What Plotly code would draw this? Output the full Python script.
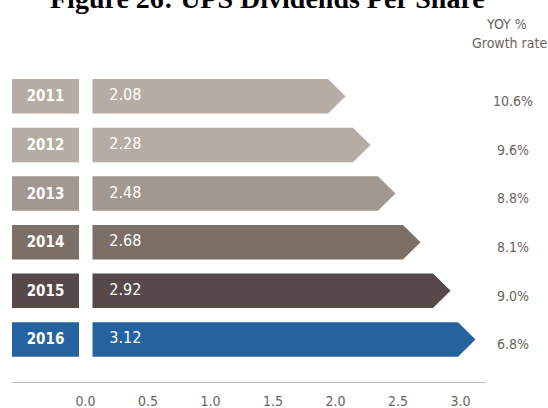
import plotly.graph_objects as go

years = ["2011", "2012", "2013", "2014", "2015", "2016"]
dividends = [2.08, 2.28, 2.48, 2.68, 2.92, 3.12]
growth = ["10.6%", "9.6%", "8.8%", "8.1%", "9.0%", "6.8%"]
colors = ["#b5aca3", "#b5aca3", "#a29791", "#7c6f66", "#574849", "#2563a0"]
tick_vals = [0.0, 0.5, 1.0, 1.5, 2.0, 2.5, 3.0]
title_text = "Figure 26: UPS Dividends Per Share"

FONT = "DejaVu Sans Condensed, DejaVu Sans, sans-serif"
GRAY = "#6b6360"

X_MIN, X_MAX = -0.588, 3.204
BOX_END = -0.052
BAR_START = 0.056
TIP = 0.14
HALF = 0.355

fig = go.Figure()

# year boxes
fig.add_trace(go.Bar(
    y=list(range(len(years))),
    x=[BOX_END - X_MIN] * len(years),
    base=[X_MIN] * len(years),
    orientation="h",
    width=2 * HALF,
    marker=dict(color=colors, line=dict(width=0)),
    text=years,
    textposition="inside",
    insidetextanchor="middle",
    textfont=dict(family=FONT, size=15, color="white", weight=700),
    hoverinfo="skip",
    showlegend=False,
))

# arrow bars
for i, (v, c) in enumerate(zip(dividends, colors)):
    xs = [BAR_START, v - TIP, v, v - TIP, BAR_START, BAR_START]
    ys = [i - HALF, i - HALF, i, i + HALF, i + HALF, i - HALF]
    fig.add_trace(go.Scatter(
        x=xs, y=ys, mode="lines", fill="toself", fillcolor=c,
        line=dict(width=0, color=c), hoverinfo="skip", showlegend=False,
    ))

# value labels
fig.add_trace(go.Scatter(
    x=[0.19] * len(dividends), y=list(range(len(dividends))),
    mode="text", text=[f"{v:.2f}" for v in dividends],
    textposition="middle right",
    textfont=dict(family=FONT, size=16, color="white"),
    hoverinfo="skip", showlegend=False,
))

annotations = [
    dict(text=title_text, xref="paper", yref="paper", x=0.54, y=1.109,
         xanchor="center", yanchor="bottom", showarrow=False,
         font=dict(family="Liberation Serif, Times New Roman, serif",
                   size=28, color="black", weight=700)),
    dict(text="YOY %", xref="paper", yref="paper",
         x=1.0443, y=1.0848, xanchor="center", yanchor="middle",
         showarrow=False, font=dict(family=FONT, size=14, color=GRAY)),
    dict(text="Growth rate", xref="paper", yref="paper",
         x=1.0506, y=1.0258, xanchor="center", yanchor="middle",
         showarrow=False, font=dict(family=FONT, size=14, color=GRAY)),
]
for i, g in enumerate(growth):
    annotations.append(dict(
        text=g, xref="paper", yref="y", x=1.057, y=i + 0.1,
        xanchor="center", yanchor="middle", showarrow=False,
        font=dict(family=FONT, size=14, color=GRAY),
    ))

fig.update_layout(
    template="none",
    width=548, height=408,
    margin=dict(l=12, r=62, t=52, b=26, pad=0),
    paper_bgcolor="white", plot_bgcolor="white",
    barmode="overlay",
    showlegend=False,
    xaxis=dict(
        range=[X_MIN, X_MAX], showgrid=False, zeroline=False, automargin=False,
        showline=True, linecolor="#c4bcb7", linewidth=1,
        tickvals=tick_vals, ticktext=[f"{t:.1f}" for t in tick_vals],
        ticks="outside", ticklen=6, tickcolor="rgba(0,0,0,0)",
        tickfont=dict(family=FONT, size=14, color=GRAY),
        fixedrange=True,
    ),
    yaxis=dict(
        range=[5.874, -0.911], showgrid=False, zeroline=False, automargin=False,
        showline=False, showticklabels=False, ticks="", fixedrange=True,
    ),
    annotations=annotations,
)

fig.write_html("out.html", config={"displayModeBar": False},
               post_script="document.body.style.margin='0';")
